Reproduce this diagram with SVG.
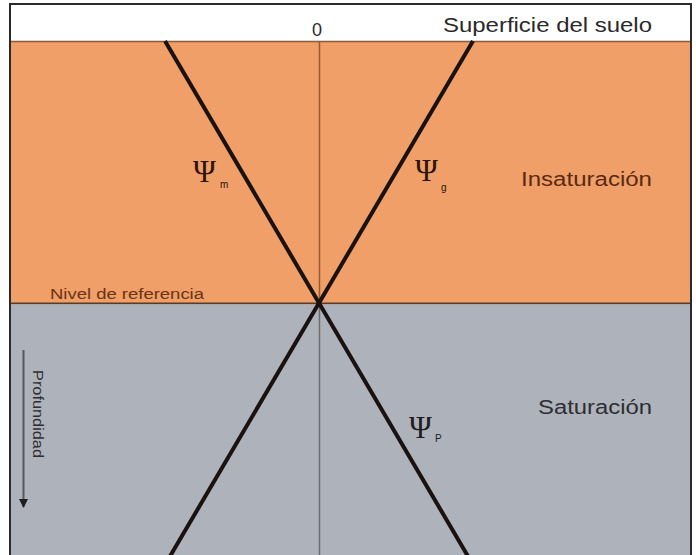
<svg xmlns="http://www.w3.org/2000/svg" width="696" height="555" viewBox="0 0 696 555">
<defs>
<style>
.lbl{font-family:"Liberation Sans",Arial,sans-serif;}
.psi{font-family:"Liberation Serif","Times New Roman",serif;font-size:31px;}
.sub{font-family:"Liberation Sans",Arial,sans-serif;font-size:10px;}
.pot{stroke:#1a1210;stroke-width:4;fill:none;}
</style>
<marker id="ah" viewBox="0 0 10 10" refX="9" refY="5" markerWidth="11" markerHeight="9" orient="auto" markerUnits="userSpaceOnUse">
<path d="M0,0 L10,5 L0,10 Z" fill="#1e1e22"/>
</marker>
</defs>
<rect x="0" y="0" width="696" height="555" fill="#ffffff"/>
<g id="zona-insaturacion">
<rect x="11" y="41" width="680" height="262" fill="#EF9F67"/>
<line x1="11" y1="41.5" x2="691" y2="41.5" stroke="#8a5a3a" stroke-width="1.5"/>
<line x1="11" y1="303.5" x2="691" y2="303.5" stroke="#5a3a28" stroke-width="2"/>
<text class="lbl" x="521" y="186" font-size="20" textLength="131" lengthAdjust="spacingAndGlyphs" fill="#5a2a12">Insaturación</text>
<text class="lbl" x="50" y="299" font-size="14" textLength="154" lengthAdjust="spacingAndGlyphs" fill="#6a3414">Nivel de referencia</text>
</g>
<g id="zona-saturacion">
<rect x="11" y="304.5" width="680" height="252" fill="#AEB2BA"/>
<text class="lbl" x="538" y="414" font-size="20" textLength="114" lengthAdjust="spacingAndGlyphs" fill="#2e2e32">Saturación</text>
</g>
<g id="superficie">
<text class="lbl" x="443" y="32" font-size="20" textLength="209" lengthAdjust="spacingAndGlyphs" fill="#2a2a2a">Superficie del suelo</text>
<text class="lbl" x="312" y="36" font-size="18" fill="#2a2a2a">0</text>
</g>
<g id="eje">
<line x1="319.5" y1="42" x2="319.5" y2="303" stroke="#9a5a30" stroke-width="1.5"/>
<line x1="319.5" y1="305" x2="319.5" y2="555" stroke="#6a6c72" stroke-width="1.5"/>
</g>
<g id="connectors">
<line class="pot" x1="165" y1="41" x2="319" y2="303"/>
<line class="pot" x1="473" y1="41" x2="319" y2="303"/>
<line class="pot" x1="319" y1="303" x2="169" y2="558"/>
<line class="pot" x1="319" y1="303" x2="469" y2="558"/>
</g>
<g id="psi-m">
<text class="psi" x="193" y="182" fill="#2a140a">Ψ</text>
<text class="sub" x="220" y="188" fill="#2a140a">m</text>
</g>
<g id="psi-g">
<text class="psi" x="415" y="181" fill="#2a140a">Ψ</text>
<text class="sub" x="441" y="191" fill="#2a140a">g</text>
</g>
<g id="psi-p">
<text class="psi" x="409" y="438" fill="#1e1e22">Ψ</text>
<text class="sub" x="435" y="442" fill="#1e1e22">P</text>
</g>
<g id="profundidad">
<line x1="23.5" y1="350" x2="23.5" y2="507" stroke="#555860" stroke-width="2" marker-end="url(#ah)"/>
<text class="lbl" transform="translate(33,370) rotate(90)" font-size="14" textLength="88" lengthAdjust="spacingAndGlyphs" fill="#2e2e32">Profundidad</text>
</g>
<rect x="10" y="4" width="681" height="560" fill="none" stroke="#2a2a2a" stroke-width="2"/>
</svg>
